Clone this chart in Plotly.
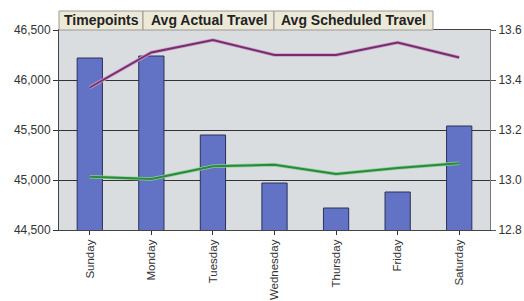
import plotly.graph_objects as go

days = ["Sunday", "Monday", "Tuesday", "Wednesday", "Thursday", "Friday", "Saturday"]
timepoints = [46220, 46240, 45450, 44970, 44720, 44880, 45540]
avg_actual = [13.37, 13.51, 13.56, 13.50, 13.50, 13.55, 13.49]
avg_sched = [13.013, 13.004, 13.055, 13.061, 13.024, 13.048, 13.067]
legend_labels = ["Timepoints", "Avg Actual Travel", "Avg Scheduled Travel"]
left_ticks = [44500, 45000, 45500, 46000, 46500]
right_ticks = [12.8, 13.0, 13.2, 13.4, 13.6]

W, H = 524, 301
L, R, T, B = 59, 34, 30, 71
pw, ph = W - L - R, H - T - B

def px_x(px):
    return (px - L) / pw

def px_y(py):
    return (H - B - py) / ph

fig = go.Figure()
fig.add_trace(go.Bar(
    x=days, y=timepoints, width=0.41,
    marker=dict(color="#6273c6", line=dict(color="#2c3058", width=1)),
    name=legend_labels[0], yaxis="y",
))
fig.add_trace(go.Scatter(x=days, y=avg_actual, mode="lines", yaxis="y2",
                         line=dict(color="#c9a0c4", width=3.5), hoverinfo="skip"))
fig.add_trace(go.Scatter(x=days, y=avg_actual, mode="lines", yaxis="y2",
                         line=dict(color="#7a2c72", width=2), name=legend_labels[1]))
fig.add_trace(go.Scatter(x=days, y=avg_sched, mode="lines", yaxis="y2",
                         line=dict(color="#8fcc96", width=3.5), hoverinfo="skip"))
fig.add_trace(go.Scatter(x=days, y=avg_sched, mode="lines", yaxis="y2",
                         line=dict(color="#2a8a3c", width=2), name=legend_labels[2]))

tick_font = dict(family="Liberation Sans, Arial, sans-serif", size=12, color="#333333")
x_font = dict(family="Liberation Sans, Arial, sans-serif", size=11.5, color="#333333")

fig.update_layout(
    width=W, height=H,
    margin=dict(l=L, r=R, t=T, b=B, pad=0, autoexpand=False),
    paper_bgcolor="white", plot_bgcolor="#d9dde0",
    showlegend=False,
    xaxis=dict(
        type="category", tickangle=-90, tickfont=x_font, automargin=False,
        ticks="outside", ticklen=4, tickcolor="#333",
        showline=True, linecolor="#444", linewidth=1, mirror=True,
        showgrid=False, zeroline=False, range=[-0.5, 6.5],
    ),
    yaxis=dict(
        range=[44500, 46500], tickvals=left_ticks, tickformat=",d", automargin=False,
        tickfont=tick_font, ticks="outside", ticklen=5, tickcolor="#333",
        showline=True, linecolor="#444", linewidth=1,
        showgrid=True, gridcolor="#333333", gridwidth=1, zeroline=False,
    ),
    yaxis2=dict(
        range=[12.8, 13.6], tickvals=right_ticks, tickformat=".1f", automargin=False,
        overlaying="y", side="right",
        tickfont=tick_font, ticks="outside", ticklen=5, tickcolor="#555",
        showline=True, linecolor="#777", linewidth=1,
        showgrid=False, zeroline=False,
    ),
)

edges = [59, 143, 274, 433]
top_px, bot_px = 11, 30
for i, lab in enumerate(legend_labels):
    x0, x1 = px_x(edges[i]), px_x(edges[i + 1])
    fig.add_shape(type="rect", xref="paper", yref="paper",
                  x0=x0, x1=x1, y0=px_y(bot_px), y1=px_y(top_px),
                  fillcolor="#ece9d8", line=dict(color="#9a9a90", width=1), layer="above")
    fig.add_annotation(xref="paper", yref="paper", x=(x0 + x1) / 2, y=px_y((top_px + bot_px) / 2),
                       text="<b>" + lab + "</b>", showarrow=False,
                       xanchor="center", yanchor="middle",
                       font=dict(family="Liberation Sans, Arial, sans-serif", size=14, color="#222222"))

fig.write_html("out.html", config={"displayModeBar": False},
               post_script="document.body.style.margin='0';document.body.style.overflow='hidden';")
